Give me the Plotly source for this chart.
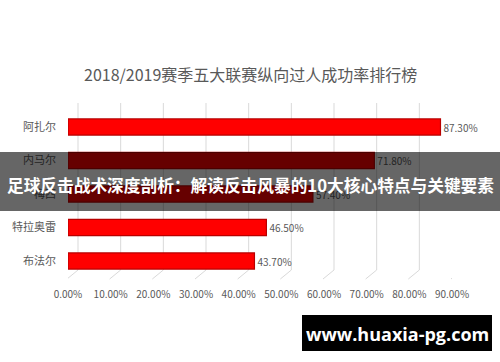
import plotly.graph_objects as go

players = ["阿扎尔", "内马尔", "梅西", "特拉奥雷", "布法尔"]
success_rate = [87.30, 71.80, 57.40, 46.50, 43.70]
tick_values = [0, 10, 20, 30, 40, 50, 60, 70, 80, 90]
tick_labels = ["0.00%", "10.00%", "20.00%", "30.00%", "40.00%", "50.00%",
               "60.00%", "70.00%", "80.00%", "90.00%"]
title_text = "2018/2019赛季五大联赛纵向过人成功率排行榜"
banner_text = "足球反击战术深度剖析：解读反击风暴的10大核心特点与关键要素"
watermark_text = "www.huaxia-pg.com"

W, H = 500, 362
FONT = "Noto Sans CJK SC, Noto Sans, sans-serif"
GRAY = "#595959"

x_left_px, x_right_px = 68, 452
y_top_px, y_bot_px = 110.25, 277.75

fig = go.Figure()
fig.add_trace(go.Bar(
    y=players, x=success_rate, orientation="h",
    marker=dict(color="#ff0000", line=dict(color="#b80000", width=1.2)),
    width=0.48,
    text=[f"{v:.2f}%" for v in success_rate],
    textposition="outside", cliponaxis=False,
    textfont=dict(family=FONT, size=10, color=GRAY),
    hoverinfo="skip",
))

shapes = []
grid_top = 1 - 103 / H
grid_bot_back = 1 - 270 / H
grid_bot_front = 1 - 279 / H
for v in tick_values:
    shapes.append(dict(type="line", xref="x", xsizemode="pixel", xanchor=v,
                       x0=10, x1=10, yref="paper", y0=grid_bot_back, y1=grid_top,
                       line=dict(color="#d9d9d9", width=1), layer="below"))
    shapes.append(dict(type="line", xref="x", xsizemode="pixel", xanchor=v,
                       x0=-1, x1=10, yref="paper", y0=grid_bot_front, y1=grid_bot_back,
                       line=dict(color="#d9d9d9", width=1), layer="below"))

# dark banner overlay
shapes.append(dict(type="rect", xref="paper", yref="paper",
                   x0=0, x1=1, y0=1 - 211 / H, y1=1 - 152 / H,
                   fillcolor="rgba(0,0,0,0.6)", line=dict(width=0), layer="above"))
# watermark box
shapes.append(dict(type="rect", xref="paper", yref="paper",
                   x0=302 / W, x1=492 / W, y0=1 - 351 / H, y1=1 - 315 / H,
                   fillcolor="#000000", line=dict(width=0), layer="above"))

annotations = [
    dict(text=title_text, xref="paper", yref="paper", x=0.5, y=1 - 74 / H,
         showarrow=False, font=dict(family=FONT, size=16, color=GRAY),
         xanchor="center", yanchor="middle"),
    dict(text="<b>" + banner_text + "</b>", xref="paper", yref="paper",
         x=0.5, y=1 - 185 / H, showarrow=False,
         font=dict(family=FONT, size=16.7, color="#ffffff"),
         xanchor="center", yanchor="middle"),
    dict(text="<b>" + watermark_text + "</b>", xref="paper", yref="paper",
         x=397 / W, y=1 - 334 / H, showarrow=False,
         font=dict(family="Open Sans, DejaVu Sans, sans-serif", size=18, color="#ffffff"),
         xanchor="center", yanchor="middle"),
]

fig.update_layout(
    width=W, height=H,
    margin=dict(l=0, r=0, t=0, b=0),
    paper_bgcolor="#ffffff", plot_bgcolor="rgba(0,0,0,0)",
    showlegend=False,
    shapes=shapes, annotations=annotations,
    xaxis=dict(domain=[x_left_px / W, x_right_px / W], range=[0, 90],
               tickvals=tick_values, ticktext=tick_labels, showgrid=False,
               zeroline=False, showline=False, ticks="", automargin=False,
               ticklabelstandoff=9,
               tickfont=dict(family=FONT, size=10, color=GRAY), fixedrange=True),
    yaxis=dict(domain=[1 - y_bot_px / H, 1 - y_top_px / H],
               autorange="reversed", showgrid=False, zeroline=False,
               showline=False, ticks="", ticklabelstandoff=11, automargin=False,
               tickfont=dict(family=FONT, size=11, color=GRAY), fixedrange=True),
    bargap=0.5,
)

fig.write_html("out.html", config={"displayModeBar": False},
               post_script="document.body.style.margin='0px';")
